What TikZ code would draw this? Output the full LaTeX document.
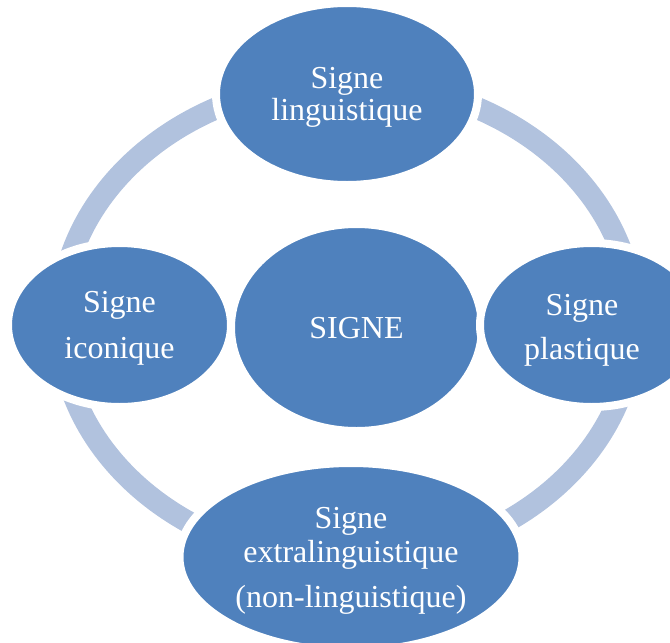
\documentclass[tikz,border=0pt]{standalone}
\usepackage{fontspec}
\setmainfont{Liberation Serif}
\usetikzlibrary{shapes.geometric}
\definecolor{nodeblue}{RGB}{79,129,189}
\definecolor{ringblue}{RGB}{177,194,222}

\begin{document}
\begin{tikzpicture}[x=1pt,y=-1pt,
  bubble/.style={ellipse, fill=nodeblue, draw=white, line width=8pt, inner sep=0pt},
  ringline/.style={draw=ringblue, line width=22pt},
  caption/.style={text=white, align=center, inner sep=0pt, yshift=-3.5pt}]
  \useasboundingbox (0,0) rectangle (670,643);
  \clip (0,0) rectangle (670,643);

  % cycle ring behind the outer bubbles
  \coordinate (hub) at (347,322);
  \path[ringline] (hub) ellipse [x radius=287, y radius=240];

  % bubbles (radii include the white rim)
  \node[bubble, minimum width=262pt, minimum height=182pt] (ling) at (347,94) {};
  \node[bubble, minimum width=251pt, minimum height=207pt] (signe) at (356.5,327.5) {};
  \node[bubble, minimum width=223pt, minimum height=164pt] (icon) at (119.5,325) {};
  \node[bubble, minimum width=223pt, minimum height=164pt] (plast) at (591.5,325) {};
  \node[bubble, minimum width=343pt, minimum height=188pt] (extra) at (351,557) {};

  % labels
  \node[caption, font=\fontsize{32}{32}\selectfont] (tling) at (ling.center) {Signe\\linguistique};
  \node[caption, font=\fontsize{32}{32}\selectfont] (tsigne) at (356.5,325) {SIGNE};
  \node[caption, font=\fontsize{32}{46}\selectfont] (ticon) at (119.5,325) {Signe\\iconique};
  \node[caption, font=\fontsize{32}{44}\selectfont] (tplast) at (582,326.5) {Signe\\plastique};
  \node[caption, font=\fontsize{32}{34}\selectfont] (textra) at (351,557) {Signe\\extralinguistique\\[11pt](non-linguistique)};
\end{tikzpicture}
\end{document}
